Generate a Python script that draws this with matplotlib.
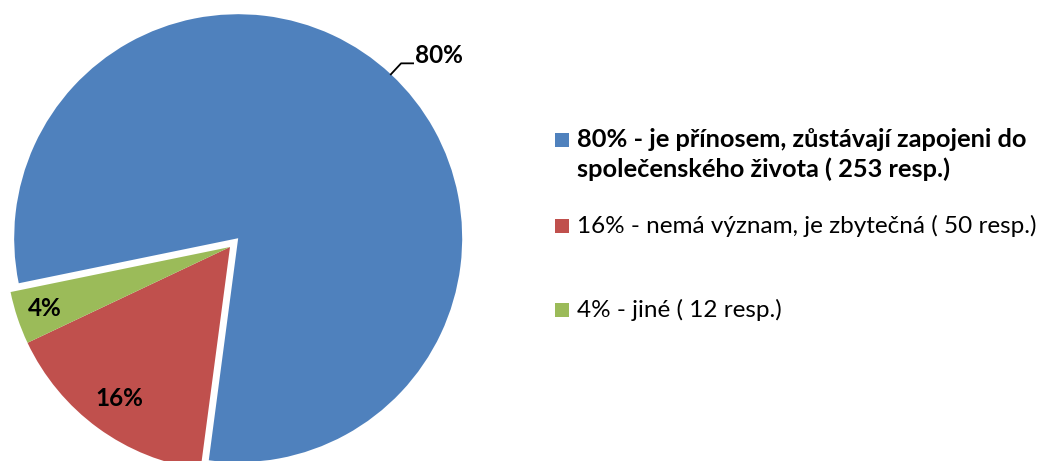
import matplotlib
matplotlib.use("Agg")
import matplotlib.pyplot as plt
from matplotlib.patches import Rectangle
import numpy as np

plt.rcParams["font.family"] = ["Lato", "DejaVu Sans"]

# data z dotazníku
odpovedi = ["je přínosem, zůstávají zapojeni do\nspolečenského života",
            "nemá význam, je zbytečná",
            "jiné"]
respondenti = [253, 50, 12]
procenta = [80, 16, 4]
barvy = ["#4F81BD", "#C0504D", "#9BBB59"]

W, H = 1043, 461
fig = plt.figure(figsize=(W / 100, H / 100), dpi=100)
ax = fig.add_axes([0, 0, 1, 1])

wedges, _ = ax.pie(respondenti, colors=barvy, startangle=191.6, counterclock=False,
                   explode=[12, 0, 0], radius=224, center=(230, H - 247), frame=True,
                   wedgeprops=dict(linewidth=0))
ax.set_xlim(0, W)
ax.set_ylim(0, H)
ax.set_aspect("equal")
ax.axis("off")

velikost = 17.5

# popisky výsečí
vzdalenost = [None, 0.835, 0.87]
for w, p, d in zip(wedges, procenta, vzdalenost):
    uhel = np.deg2rad((w.theta1 + w.theta2) / 2)
    cx, cy = w.center
    if d is None:
        x0, y0 = cx + w.r * np.cos(uhel), cy + w.r * np.sin(uhel)
        x1, y1 = cx + (w.r + 15) * np.cos(uhel), cy + (w.r + 15) * np.sin(uhel)
        ax.plot([x0, x1, x1 + 12], [y0, y1, y1], color="black", lw=1.3)
        ax.text(x1 + 14, y1 + 8, f"{p}%", fontsize=velikost, fontweight="bold",
                ha="left", va="center")
    else:
        ax.text(cx + d * w.r * np.cos(uhel), cy + d * w.r * np.sin(uhel), f"{p}%",
                fontsize=velikost, fontweight="bold", ha="center", va="center")

# legenda
zaklad = [147, 233, 317]
for i, (txt, n, p, b) in enumerate(zip(odpovedi, respondenti, procenta, barvy)):
    radky = f"{p}% - {txt} ( {n} resp.)".split("\n")
    y = H - zaklad[i]
    ax.add_patch(Rectangle((555, y), 14, 14, color=b, lw=0))
    for j, r in enumerate(radky):
        ax.text(577, y - 30 * j, r, fontsize=18.3 if i == 0 else velikost,
                fontweight="bold" if i == 0 else "normal", ha="left", va="baseline")

fig.savefig("out.png", dpi=100)
